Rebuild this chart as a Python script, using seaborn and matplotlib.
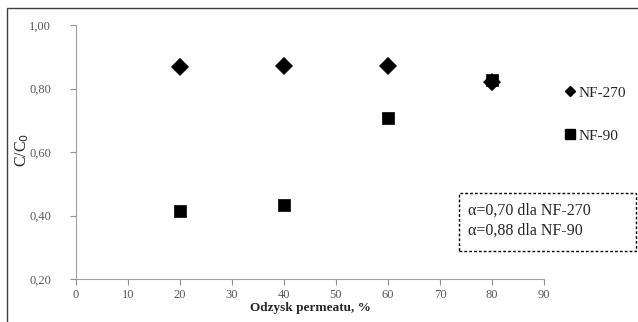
import matplotlib
matplotlib.use("Agg")
import matplotlib.pyplot as plt
import seaborn as sns
import pandas as pd
from matplotlib.patches import Rectangle
from matplotlib.ticker import FuncFormatter
from matplotlib.lines import Line2D

recovery = [20, 40, 60, 80]
nf270 = [0.868, 0.871, 0.871, 0.820]
nf90 = [0.413, 0.433, 0.707, 0.827]
series_names = ["NF-270", "NF-90"]
x_ticks = [0, 10, 20, 30, 40, 50, 60, 70, 80, 90]
y_ticks = [0.20, 0.40, 0.60, 0.80, 1.00]
note_lines = ["\u03b1=0,70 dla NF-270", "\u03b1=0,88 dla NF-90"]

df = pd.DataFrame({
    "x": recovery * 2,
    "y": nf270 + nf90,
    "s": [series_names[0]] * 4 + [series_names[1]] * 4,
})

sns.set_style("white")
plt.rcParams['font.family'] = ['Liberation Serif', 'DejaVu Serif']

fig = plt.figure(figsize=(6.38, 3.22), dpi=100)
ax = fig.add_axes([76/638, 1-279/322, (544-76)/638, (279-25)/322])

sns.scatterplot(data=df, x="x", y="y", style="s", hue="s",
                markers={"NF-270": "D", "NF-90": "s"},
                palette={"NF-270": "black", "NF-90": "black"},
                s=75, edgecolor="black", linewidth=0.5, ax=ax, legend=False)

ax.set_xlim(0, 90)
ax.set_ylim(0.20, 1.00)
ax.set_xticks(x_ticks)
ax.set_yticks(y_ticks)
ax.yaxis.set_major_formatter(FuncFormatter(lambda v, p: f"{v:.2f}".replace(".", ",")))
ax.tick_params(axis="both", colors="#909090", labelcolor="#595959", labelsize=9,
               direction="out", length=4, width=0.8, bottom=True, left=True)
ax.tick_params(axis="y", pad=14)
ax.tick_params(axis="x", pad=3)
for side in ["top", "right"]:
    ax.spines[side].set_visible(False)
for side in ["left", "bottom"]:
    ax.spines[side].set_color("#a0a0a0")
    ax.spines[side].set_linewidth(0.8)

ax.set_xlabel("")
ax.set_ylabel("")
fig.text(22/638, 1-150/322, "C/C$_0$", fontsize=11.5, rotation=90, ha="center", va="center")
fig.text(310/638, 1-308/322, "Odzysk permeatu, %", fontsize=9.5, fontweight="bold",
         ha="center", va="center")

# legend
handles = [Line2D([], [], marker="D", color="black", linestyle="none", markersize=5),
           Line2D([], [], marker="s", color="black", linestyle="none", markersize=6.5)]
fig.legend(handles, series_names, loc="upper left", bbox_to_anchor=(556/638, 1-80/322),
           frameon=False, fontsize=11, handletextpad=0.1, labelspacing=1.9,
           handlelength=1.0, borderaxespad=0)

# note box
fig.patches.append(Rectangle((459/638, 1-251/322), (636-459)/638, (251-193)/322,
                             transform=fig.transFigure, fill=False, edgecolor="black",
                             linestyle=(0, (2, 1.5)), linewidth=1))
fig.text(468/638, 1-211/322, note_lines[0], fontsize=11.5, va="center")
fig.text(468/638, 1-231/322, note_lines[1], fontsize=11.5, va="center")

# outer frame
fig.patches.append(Rectangle((7/638, -0.05), (637-7)/638 + 0.05, (1-8/322) + 0.05,
                             transform=fig.transFigure, fill=False, edgecolor="#404040",
                             linewidth=1))

fig.savefig("out.png", dpi=100)
